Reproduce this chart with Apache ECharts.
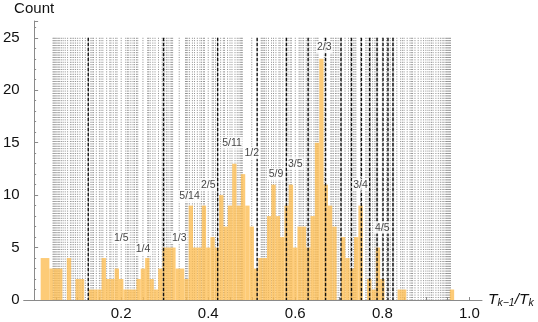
<!DOCTYPE html>
<html>
<head>
<meta charset="utf-8">
<script src="https://cdn.jsdelivr.net/npm/echarts@6/dist/echarts.min.js"></script>
<style>
  html, body { margin: 0; padding: 0; background: #fff; }
  #chart { width: 538px; height: 322px; }
</style>
</head>
<body>
<div id="chart"></div>
<script>
// histogram: first bin starts at binStart, all bins binWidth wide
const binStart = 0.015
const binWidth = 0.01
const counts = [
  4, 4, 3, 3, 3, 0, 4, 0, 2, 2,
  0, 1, 1, 1, 4, 2, 2, 3, 2, 1,
  1, 1, 2, 3, 4, 2, 1, 3, 5, 5,
  5, 3, 3, 2, 9, 5, 5, 9, 5, 6,
  5, 10, 7, 9, 13, 9, 12, 9, 7, 3,
  4, 4, 8, 11, 8, 6, 9, 11, 5, 7,
  7, 5, 8, 15, 23, 11, 9, 7, 0, 6,
  4, 3, 6, 9, 0, 2, 1, 5, 2, 0,
  0, 0, 1, 1, 0, 0, 0, 0, 0, 0,
  0, 0, 0, 0, 1
]

// black dashed reference lines
const dashedLines = [
  0.1243, 0.2973, 0.4217, 0.5124, 0.5796, 0.6295, 0.6696, 0.7050,
  0.7291, 0.7519, 0.7709, 0.7879, 0.8016, 0.8130, 0.8245
]

// labelled fractions and the count level their labels sit at
const fracNames = ['1/5', '1/4', '1/3', '5/14', '2/5', '5/11', '1/2', '5/9', '3/5', '2/3', '3/4', '4/5']
const fracValues = [1 / 5, 1 / 4, 1 / 3, 5 / 14, 2 / 5, 5 / 11, 1 / 2, 5 / 9, 3 / 5, 2 / 3, 3 / 4, 4 / 5]
const fracLabelY = [5.9, 4.85, 5.9, 9.9, 10.95, 15, 14, 12, 13, 24.1, 11, 6.9]

// gray dotted lines: every reduced fraction p/q with q up to this order
const fareyOrder = 23
const lineTop = 25

const xTicks = [0, 0.05, 0.1, 0.15, 0.2, 0.25, 0.3, 0.35, 0.4, 0.45, 0.5, 0.55, 0.6, 0.65, 0.7, 0.75, 0.8, 0.85, 0.9, 0.95, 1.0]
const xLabels = [0.2, 0.4, 0.6, 0.8, 1.0]

const font = 'Liberation Sans, Arial, sans-serif'
const axisColor = '#8a8a8a'

const gcd = (a, b) => (b === 0 ? a : gcd(b, a % b))
const fareyValues = []
for (let q = 2; q <= fareyOrder; q++) {
  for (let p = 1; p < q; p++) {
    if (gcd(p, q) === 1) fareyValues.push(p / q)
  }
}

const barData = counts.map((c, i) => {
  const x0 = binStart + i * binWidth
  return [x0, x0 + binWidth, c]
})

const vLine = (stroke, width, dash) => (params, api) => {
  const top = api.coord([api.value(0), lineTop])
  const bottom = api.coord([api.value(0), 0])
  return {
    type: 'line',
    shape: { x1: top[0], y1: top[1], x2: bottom[0], y2: bottom[1] },
    style: { stroke: stroke, lineWidth: width, lineDash: dash }
  }
}

const chart = echarts.init(document.getElementById('chart'))

chart.setOption({
  animation: false,
  grid: { left: 22, right: 56, top: 21, bottom: 22 },
  xAxis: {
    type: 'value',
    min: -0.024,
    max: 1.029,
    splitLine: { show: false },
    axisLine: { lineStyle: { color: axisColor, width: 1 } },
    axisTick: {
      inside: true,
      length: 3,
      customValues: xTicks,
      lineStyle: { color: axisColor }
    },
    axisLabel: {
      customValues: xLabels,
      formatter: v => v.toFixed(1),
      fontFamily: font,
      fontSize: 15,
      color: '#111',
      margin: 6
    },
    name: '{i|T}{s|k\u22121}{i|/T}{s|k}',
    nameLocation: 'end',
    nameGap: 6,
    nameTextStyle: {
      rich: {
        i: { fontFamily: font, fontSize: 15.5, fontStyle: 'italic', color: '#111', lineHeight: 18 },
        s: { fontFamily: font, fontSize: 10.5, fontStyle: 'italic', color: '#111', lineHeight: 10, verticalAlign: 'bottom' }
      }
    }
  },
  yAxis: {
    type: 'value',
    min: 0,
    max: 26.6,
    interval: 5,
    splitLine: { show: false },
    axisLine: { show: true, lineStyle: { color: axisColor, width: 1 } },
    axisTick: { show: true, inside: true, length: 4, lineStyle: { color: axisColor } },
    minorTick: { show: true, splitNumber: 5, length: 2, lineStyle: { color: axisColor } },
    axisLabel: {
      showMaxLabel: false,
      fontFamily: font,
      fontSize: 15,
      color: '#111',
      margin: 4
    },
    name: 'Count',
    nameLocation: 'end',
    nameGap: 5,
    nameTextStyle: { fontFamily: font, fontSize: 15, color: '#111', align: 'center' }
  },
  series: [
    {
      type: 'custom',
      z: 1,
      data: fareyValues.map(v => [v]),
      encode: { x: 0 },
      renderItem: vLine('#8a8a8a', 1, [1, 1.4]),
      silent: true
    },
    {
      type: 'custom',
      z: 2,
      data: barData,
      encode: { x: [0, 1], y: 2 },
      renderItem: (params, api) => {
        const p0 = api.coord([api.value(0), api.value(2)])
        const p1 = api.coord([api.value(1), 0])
        return {
          type: 'rect',
          shape: { x: p0[0], y: p0[1], width: p1[0] - p0[0], height: p1[1] - p0[1] },
          style: { fill: 'rgba(252, 190, 85, 0.8)' }
        }
      }
    },
    {
      type: 'custom',
      z: 3,
      data: dashedLines.map(v => [v]),
      encode: { x: 0 },
      renderItem: vLine('#111', 1.4, [3.5, 1.5]),
      silent: true
    },
    {
      type: 'scatter',
      z: 4,
      symbolSize: 1,
      itemStyle: { color: 'rgba(0,0,0,0)' },
      data: fracNames.map((n, i) => ({ name: n, value: [fracValues[i], fracLabelY[i]] })),
      label: {
        show: true,
        position: 'inside',
        formatter: p => p.name,
        fontFamily: font,
        fontSize: 10.5,
        color: '#111',
        backgroundColor: '#fff',
        padding: [1, 1, 0, 1]
      }
    }
  ]
})
</script>
</body>
</html>
